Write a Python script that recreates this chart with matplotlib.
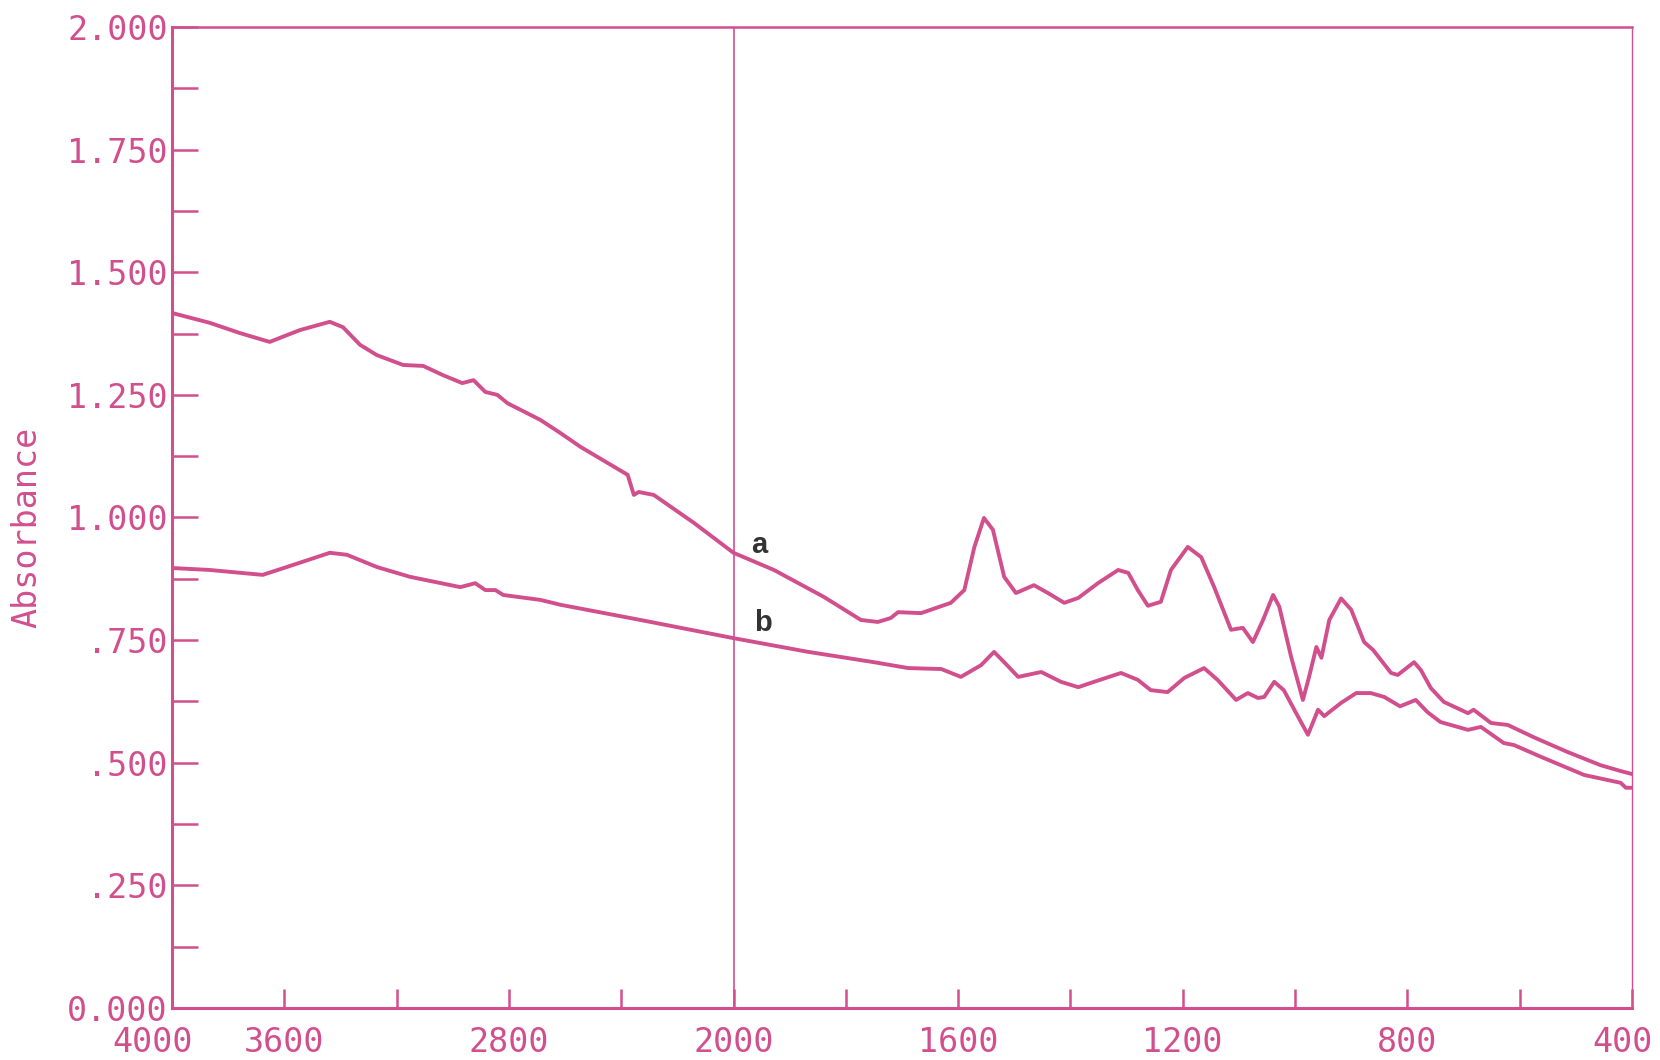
import numpy as np
import matplotlib.pyplot as plt
from matplotlib.transforms import ScaledTranslation

pink = '#d24f8e'

# Spectrum a
wn_a = [4000, 3866, 3758, 3652, 3545, 3438, 3391, 3330, 3270, 3177, 3105, 3034,
        2966, 2926, 2884, 2841, 2805, 2688, 2616, 2545, 2377, 2355, 2338, 2284,
        2141, 2000, 1928, 1839, 1773, 1743, 1720, 1707, 1666, 1613, 1589, 1571,
        1554, 1538, 1518, 1497, 1465, 1440, 1411, 1386, 1351, 1315, 1297, 1280,
        1262, 1239, 1221, 1191, 1167, 1144, 1114, 1093, 1075, 1057, 1039, 1028,
        1007, 986, 975, 962, 953, 939, 918, 900, 877, 861, 829, 817, 788, 776,
        758, 735, 692, 682, 651, 621, 575, 515, 456, 420, 400]
abs_a = [1.417, 1.397, 1.376, 1.358, 1.382, 1.399, 1.388, 1.352, 1.331, 1.311, 1.309, 1.290,
         1.274, 1.280, 1.256, 1.250, 1.233, 1.199, 1.172, 1.144, 1.087, 1.046, 1.052, 1.046,
         0.989, 0.928, 0.893, 0.838, 0.791, 0.787, 0.795, 0.807, 0.805, 0.826, 0.852, 0.940,
         0.999, 0.975, 0.879, 0.846, 0.862, 0.846, 0.826, 0.836, 0.866, 0.893, 0.887, 0.852,
         0.820, 0.828, 0.893, 0.940, 0.919, 0.858, 0.771, 0.775, 0.746, 0.791, 0.842, 0.818,
         0.716, 0.628, 0.675, 0.736, 0.714, 0.791, 0.835, 0.812, 0.746, 0.730, 0.683, 0.679, 0.705, 0.689,
         0.652, 0.624, 0.601, 0.608, 0.581, 0.577, 0.552, 0.522, 0.495, 0.483, 0.477]

# Spectrum b
wn_b = [4000, 3866, 3677, 3570, 3438, 3377, 3270, 3152, 2973, 2920, 2884, 2848,
        2820, 2688, 2616, 2331, 2000, 1867, 1750, 1689, 1630, 1595, 1559, 1536,
        1518, 1493, 1452, 1417, 1386, 1363, 1310, 1280, 1257, 1227, 1197, 1162,
        1138, 1105, 1084, 1066, 1055, 1037, 1020, 998, 977, 959, 948, 918, 891,
        865, 841, 813, 785, 764, 741, 692, 669, 628, 610, 562, 485, 420, 411, 400]
abs_b = [0.897, 0.893, 0.883, 0.903, 0.928, 0.924, 0.899, 0.879, 0.858, 0.866, 0.852, 0.852,
         0.842, 0.832, 0.822, 0.791, 0.754, 0.726, 0.705, 0.693, 0.691, 0.675, 0.699, 0.726,
         0.705, 0.675, 0.685, 0.665, 0.654, 0.663, 0.683, 0.669, 0.648, 0.644, 0.673, 0.693,
         0.669, 0.628, 0.642, 0.632, 0.634, 0.665, 0.648, 0.601, 0.557, 0.608, 0.595, 0.622, 0.642,
         0.642, 0.634, 0.615, 0.628, 0.603, 0.583, 0.567, 0.573, 0.540, 0.536, 0.512, 0.475, 0.459, 0.449, 0.449]

x_labeled = [4000, 3600, 2800, 2000, 1600, 1200, 800, 400]
x_minor = [3200, 2400, 1800, 1400, 1000, 600]
y_major = [0, 0.25, 0.5, 0.75, 1.0, 1.25, 1.5, 1.75, 2.0]
y_labels = ['0.000', '.250', '.500', '.750', '1.000', '1.250', '1.500', '1.750', '2.000']


# wavenumber axis: 200 cm-1 per unit below 2000, 400 cm-1 per unit above
def fwd(x):
    x = np.asarray(x, dtype=float)
    return np.where(x >= 2000, 8 + (x - 2000) / 400, (x - 400) / 200)


def inv(u):
    u = np.asarray(u, dtype=float)
    return np.where(u >= 8, 2000 + 400 * (u - 8), 400 + 200 * u)


fig = plt.figure(figsize=(16.6, 10.6), dpi=100)
ax = fig.add_axes([0.1036, 0.0491, 0.8795, 0.9254])
ax.set_xscale('function', functions=(fwd, inv))

ax.plot(wn_a, abs_a, color=pink, lw=2.8, solid_joinstyle='round')
ax.plot(wn_b, abs_b, color=pink, lw=2.8, solid_joinstyle='round')
ax.axvline(2000, color=pink, lw=1.2)

ax.set_xticks(x_labeled)
ax.set_xticklabels([str(v) for v in x_labeled])
ax.set_xticks(x_minor, minor=True)
ax.set_yticks(y_major)
ax.set_yticklabels(y_labels)
ax.set_yticks(np.arange(0.125, 2.0, 0.25), minor=True)

ax.set_xlim(4000, 400)
ax.set_ylim(0, 2.0)

for lab in ax.get_xticklabels() + ax.get_yticklabels():
    lab.set_fontfamily('DejaVu Sans Mono')
    lab.set_fontsize(24)
    lab.set_color(pink)

ax.tick_params(axis='y', which='both', direction='in', length=19, width=1.8,
               color=pink, pad=3)
ax.tick_params(axis='x', which='both', direction='in', length=14, width=1.8,
               color=pink, pad=13)

# end labels nudged inward
xl = ax.get_xticklabels()
xl[0].set_transform(xl[0].get_transform() + ScaledTranslation(-0.19, 0, fig.dpi_scale_trans))
xl[-1].set_transform(xl[-1].get_transform() + ScaledTranslation(-0.09, 0, fig.dpi_scale_trans))

for side, w in [('left', 2.2), ('bottom', 2.2), ('top', 1.8), ('right', 1.0)]:
    ax.spines[side].set_color(pink)
    ax.spines[side].set_linewidth(w)

ax.set_ylabel('Absorbance', color=pink, fontsize=24, family='DejaVu Sans Mono')
ax.yaxis.set_label_coords(-0.088, 0.49)

ax.text(1955, 0.944, 'a', fontsize=21, fontweight='bold', color='#333333',
        family='Liberation Sans', ha='center', va='center')
ax.text(1947, 0.785, 'b', fontsize=21, fontweight='bold', color='#333333',
        family='Liberation Sans', ha='center', va='center')

fig.savefig('out.png', dpi=100, facecolor='white')
